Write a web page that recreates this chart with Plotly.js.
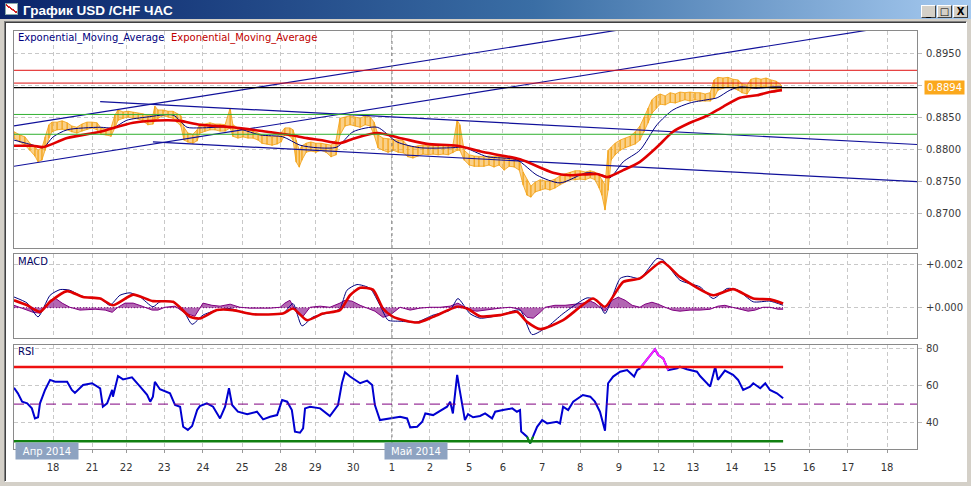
<!DOCTYPE html>
<html><head><meta charset="utf-8">
<script src="https://cdn.plot.ly/plotly-3.0.1.min.js"></script>
<style>
html,body{margin:0;padding:0;}
body{width:971px;height:486px;overflow:hidden;position:relative;background:#d4d0c8;}
#titlebar{position:absolute;left:0;top:0;width:971px;height:19px;background:linear-gradient(to right,#0a246a 0%,#3a6ea5 55%,#a6caf0 100%);}
#client{position:absolute;left:4px;top:21px;width:961px;height:459px;background:#fff;border-top:1px solid #808080;border-left:1px solid #808080;border-right:1px solid #fff;border-bottom:1px solid #fff;box-shadow:inset 1px 1px 0 #404040;}
#chart{position:absolute;left:0;top:0;width:971px;height:486px;z-index:1;}
.btn{position:absolute;top:5px;width:15px;height:13px;background:#d4d0c8;border-top:1px solid #fff;border-left:1px solid #fff;border-right:1px solid #404040;border-bottom:1px solid #404040;box-sizing:border-box;font:bold 10px 'DejaVu Sans',sans-serif;color:#000;text-align:center;line-height:11px;z-index:2;}
#icon{position:absolute;left:5px;top:3px;width:13px;height:12px;background:#fff;border:1px solid #8aa;box-sizing:border-box;z-index:2;background-image:linear-gradient(35deg,transparent 45%,#d02020 46%,#d02020 56%,transparent 57%);}
</style></head>
<body>
<div id="titlebar"></div>
<div id="client"></div>
<div id="icon"></div>
<div class="btn" style="left:921px">_</div>
<div class="btn" style="left:937px">□</div>
<div class="btn" style="left:953px">X</div>
<div id="chart"></div>
<script>
// ---------- DATA (time in trading-day units from left edge) ----------
const dayTickVals = [1.005,2.01,2.89,3.87,4.87,5.88,6.88,7.76,8.74,9.74,10.72,11.73,12.6,13.61,14.59,15.59,16.62,17.5,18.5,19.48,20.49,21.49,22.5];
const dayTickText = ['18','21','22','23','24','25','28','29','30','1','2','5','6','7','8','9','12','13','14','15','16','17','18'];
const monthLabels = ['Апр 2014','Май 2014'];
const monthStarts = [0.03, 9.54];
const mayBoundary = 9.74;

const tPrice = [0.00,0.15,0.28,0.41,0.54,0.62,0.72,0.80,0.90,0.98,1.11,1.24,1.37,1.49,1.62,1.75,1.88,2.01,2.14,2.24,2.37,2.50,2.60,2.68,2.81,2.94,3.07,3.20,3.32,3.45,3.58,3.63,3.71,3.84,3.97,4.10,4.20,4.30,4.38,4.48,4.61,4.72,4.79,4.92,5.05,5.18,5.31,5.44,5.57,5.64,5.77,5.90,6.03,6.16,6.29,6.39,6.52,6.65,6.78,6.88,6.98,7.11,7.19,7.27,7.35,7.42,7.53,7.65,7.78,7.91,8.04,8.17,8.30,8.40,8.53,8.66,8.79,8.92,9.05,9.18,9.28,9.38,9.51,9.64,9.77,9.90,10.03,10.15,10.28,10.41,10.54,10.67,10.80,10.93,11.06,11.19,11.31,11.42,11.49,11.60,11.73,11.86,11.98,12.11,12.24,12.37,12.50,12.63,12.76,12.89,13.02,13.12,13.22,13.32,13.43,13.56,13.69,13.81,13.94,14.07,14.20,14.33,14.46,14.59,14.72,14.85,14.97,15.08,15.15,15.23,15.31,15.39,15.49,15.62,15.75,15.88,16.01,16.13,16.24,16.34,16.44,16.55,16.65,16.78,16.91,17.04,17.16,17.29,17.42,17.55,17.68,17.81,17.94,18.04,18.14,18.27,18.40,18.53,18.66,18.76,18.89,18.99,19.12,19.25,19.38,19.51,19.64,19.77];
const priceHigh = [.8827,.8822,.8819,.8809,.8803,.8798,.8802,.8819,.8838,.8842,
.8842,.8844,.8841,.8836,.8834,.8839,.8842,.8842,.8841,.8833,
.8831,.8833,.8853,.8861,.8858,.8859,.8858,.8856,.8855,.8852,
.8853,.8867,.8861,.8861,.8859,.8859,.8855,.8852,.8834,.8825,
.8823,.8830,.8839,.8839,.8841,.8839,.8839,.8838,.8864,.8838,
.8833,.8830,.8830,.8828,.8825,.8822,.8820,.8819,.8820,.8825,
.8833,.8833,.8830,.8814,.8798,.8805,.8809,.8811,.8809,.8809,
.8808,.8806,.8814,.8848,.8850,.8852,.8850,.8848,.8852,.8850,
.8842,.8822,.8817,.8816,.8814,.8814,.8813,.8805,.8803,.8805,
.8806,.8805,.8806,.8805,.8806,.8805,.8806,.8845,.8838,.8798,
.8791,.8789,.8788,.8788,.8789,.8788,.8789,.8786,.8788,.8786,
.8783,.8764,.8752,.8742,.8748,.8752,.8750,.8750,.8753,.8758,
.8761,.8764,.8766,.8766,.8764,.8766,.8764,.8759,.8752,.8744,
.8798,.8803,.8809,.8814,.8817,.8820,.8827,.8836,.8850,.8864,
.8877,.8883,.8886,.8883,.8888,.8886,.8889,.8888,.8889,.8888,
.8888,.8886,.8888,.8908,.8912,.8911,.8912,.8909,.8908,.8902,
.8900,.8909,.8911,.8909,.8911,.8908,.8906,.8900];
const priceLow = [.8817,.8811,.8806,.8798,.8789,.8780,.8783,.8798,.8817,.8827,
.8830,.8831,.8830,.8827,.8825,.8828,.8831,.8833,.8830,.8823,
.8822,.8820,.8833,.8845,.8848,.8850,.8848,.8847,.8844,.8838,
.8839,.8845,.8848,.8852,.8850,.8848,.8842,.8836,.8814,.8811,
.8809,.8813,.8825,.8828,.8830,.8830,.8828,.8828,.8833,.8820,
.8817,.8819,.8817,.8817,.8814,.8809,.8808,.8806,.8808,.8811,
.8822,.8820,.8814,.8780,.8772,.8783,.8795,.8797,.8795,.8798,
.8795,.8788,.8791,.8822,.8836,.8838,.8836,.8834,.8838,.8836,
.8822,.8802,.8798,.8795,.8798,.8795,.8794,.8788,.8786,.8789,
.8792,.8791,.8792,.8791,.8792,.8791,.8794,.8798,.8798,.8783,
.8775,.8773,.8773,.8773,.8775,.8772,.8775,.8767,.8773,.8772,
.8767,.8744,.8728,.8725,.8733,.8736,.8738,.8736,.8739,.8744,
.8748,.8752,.8752,.8753,.8752,.8755,.8752,.8739,.8728,.8705,
.8736,.8783,.8791,.8798,.8802,.8805,.8808,.8814,.8827,.8841,
.8856,.8864,.8870,.8869,.8873,.8872,.8875,.8877,.8875,.8877,
.8875,.8875,.8875,.8880,.8892,.8895,.8897,.8895,.8892,.8888,
.8886,.8895,.8895,.8897,.8897,.8895,.8894,.8892];

const tEmaFast = [0.00,0.49,0.75,1.01,1.37,2.22,2.55,2.91,3.43,4.10,4.46,4.79,5.64,6.34,6.93,7.37,7.81,8.32,8.74,9.36,9.87,10.46,11.31,11.57,12.19,12.96,13.48,14.07,14.77,15.18,15.36,15.70,16.13,16.57,16.98,17.42,17.86,18.12,18.45,18.71,19.15,19.56,19.79];
const emaFast = [.8814,.8806,.8802,.8819,.8830,.8834,.8833,.8845,.8850,.8853,.8834,.8833,.8834,.8822,.8819,.8806,.8802,.8803,.8827,.8834,.8811,.8802,.8802,.8803,.8788,.8783,.8759,.8747,.8763,.8759,.8755,.8780,.8798,.8838,.8861,.8872,.8877,.8880,.8892,.8897,.8895,.8897,.8897];
const tEmaSlow = [0.00,0.49,0.75,1.37,2.22,3.07,3.94,4.28,4.79,5.64,6.52,7.11,7.55,7.89,8.40,8.74,9.36,10.03,10.64,11.42,12.19,13.04,13.89,14.33,15.03,15.28,15.70,16.13,16.57,16.98,17.42,17.86,18.27,18.71,19.15,19.48,19.79];
const emaSlow = [.8805,.8805,.8803,.8817,.8827,.8841,.8845,.8844,.8838,.8834,.8827,.8822,.8817,.8814,.8809,.8816,.8825,.8816,.8808,.8805,.8794,.8784,.8763,.8759,.8761,.8756,.8767,.8780,.8803,.8827,.8841,.8852,.8866,.8880,.8884,.8889,.8892];

// horizontal levels and trend lines drawn on the price panel
const redLevels = [0.8923, 0.8903];
const currentLine = 0.8896;
const lastPrice = 0.8894;
const greenLevels = [0.8854, 0.8823];
const trendT0 = [0, 0, 2.22, 3.58];
const trendP0 = [0.8836, 0.8773, 0.8874, 0.8811];
const trendT1 = [16, 23.27, 23.27, 23.27];
const trendP1 = [0.8990, 0.8998, 0.8807, 0.8749];

const priceTicks = [0.870, 0.875, 0.880, 0.885, 0.890, 0.895];
const priceTickText = ['0.8700','0.8750','0.8800','0.8850','','0.8950'];

const tMacd = [0.00,0.34,0.62,0.93,1.19,1.44,1.78,2.22,2.47,2.73,2.99,3.25,3.58,3.76,4.10,4.36,4.59,4.87,5.23,5.57,6.01,6.52,6.93,7.19,7.42,7.71,8.22,8.40,8.58,8.84,9.18,9.43,9.64,9.95,10.39,10.80,11.24,11.44,11.75,12.01,12.53,13.04,13.35,13.74,14.15,14.77,15.03,15.23,15.62,15.82,16.13,16.57,16.73,17.16,17.68,18.02,18.38,18.63,19.05,19.48,19.82];
const macd = [0.00049,0.00021,-0.00042,0.00057,0.00083,0.00080,0.00049,0.00042,0.00011,0.00057,0.00068,0.00049,0.00004,0.00027,0.00027,-0.00011,-0.00076,-0.00034,-0.00011,-0.00004,-0.00027,-0.00031,-0.00027,0.00019,-0.00083,-0.00042,-0.00019,-0.00004,0.00080,0.00106,0.00088,0.00011,-0.00057,-0.00062,-0.00065,-0.00034,-0.00011,0.00042,-0.00027,-0.00048,-0.00034,-0.00011,-0.00123,-0.00088,-0.00027,0.00045,0.00034,-0.00027,0.00134,0.00144,0.00134,0.00225,0.00218,0.00126,0.00095,0.00042,0.00088,0.00083,0.00027,0.00030,0.00011];
const tSignal = [0.00,0.34,0.67,0.93,1.37,1.78,2.22,2.55,3.07,3.58,4.10,4.54,4.79,5.23,5.64,6.16,6.93,7.19,7.55,7.96,8.40,8.66,8.92,9.25,9.51,9.77,10.39,10.80,11.42,11.68,12.01,12.53,12.96,13.22,13.56,14.15,14.92,15.23,15.70,16.13,16.70,17.16,18.02,18.53,19.05,19.48,19.82];
const signal = [0.00034,0.00011,-0.00019,0.00027,0.00076,0.00049,0.00042,0.00011,0.00060,0.00030,0.00027,-0.00042,-0.00049,-0.00011,-0.00011,-0.00030,-0.00027,-0.00004,-0.00057,-0.00027,-0.00011,0.00057,0.00091,0.00083,-0.00004,-0.00042,-0.00068,-0.00042,0.00004,-0.00004,-0.00039,-0.00034,-0.00019,-0.00065,-0.00098,-0.00057,0.00042,0.00004,0.00118,0.00134,0.00210,0.00141,0.00057,0.00085,0.00042,0.00038,0.00019];
const tHist = [0.00,0.28,0.49,0.67,0.80,0.93,1.06,1.24,1.44,1.70,2.09,2.35,2.53,2.68,2.86,3.07,3.30,3.56,3.71,3.89,4.15,4.41,4.66,4.87,5.10,5.31,5.57,5.82,6.08,6.34,6.60,6.86,6.98,7.11,7.29,7.45,7.63,7.89,8.14,8.40,8.53,8.71,8.92,9.30,9.51,9.69,9.95,10.21,10.46,10.72,10.98,11.24,11.44,11.62,11.75,11.93,12.27,12.53,12.78,13.04,13.22,13.38,13.56,13.69,13.94,14.20,14.46,14.66,14.85,14.97,15.10,15.23,15.41,15.57,15.75,15.93,16.13,16.26,16.44,16.60,16.78,16.96,17.16,17.42,17.68,17.94,18.14,18.32,18.51,18.71,18.92,19.10,19.30,19.48,19.69,19.82];
const hist = [0.00011,-0.00007,-0.00021,-0.00025,0.00002,0.00034,0.00044,0.00021,0.00002,-0.00011,-0.00007,-0.00011,-0.00021,0.00002,0.00021,0.00021,0.00007,-0.00011,-0.00011,0.00002,0.00007,-0.00025,-0.00039,0.00021,0.00011,0.00007,0.00016,0.00002,-0.00002,-0.00002,-0.00002,0.00002,0.00021,0.00034,-0.00025,-0.00039,0.00002,0.00007,0.00002,0.00021,0.00034,0.00030,0.00011,-0.00016,-0.00044,-0.00034,0.00002,-0.00011,-0.00002,0.00002,0.00002,0.00007,0.00021,0.00002,-0.00011,-0.00016,-0.00007,-0.00002,0.00002,-0.00007,-0.00044,-0.00048,-0.00021,0.00002,0.00011,0.00011,0.00016,0.00021,0.00030,0.00021,0.00002,-0.00016,0.00034,0.00048,0.00034,0.00011,0.00002,0.00016,0.00025,0.00016,0.00002,-0.00011,-0.00016,-0.00011,-0.00011,-0.00007,0.00007,0.00011,0.00002,-0.00007,-0.00016,-0.00011,0.00002,0.00002,-0.00007,-0.00007];
const macdTicks = [0, 0.002];
const macdTickText = ['+0.000', '+0.002'];

const tRsi = [0.00,0.10,0.21,0.34,0.46,0.54,0.62,0.67,0.80,0.93,1.06,1.37,1.49,1.57,1.78,2.01,2.22,2.29,2.40,2.53,2.55,2.68,2.81,3.04,3.25,3.43,3.51,3.58,3.63,3.76,4.02,4.15,4.28,4.36,4.48,4.59,4.72,4.79,4.97,5.13,5.31,5.44,5.54,5.62,5.77,6.01,6.26,6.42,6.60,6.78,6.91,7.04,7.16,7.24,7.37,7.45,7.50,7.63,7.89,8.14,8.35,8.45,8.53,8.66,8.92,9.10,9.23,9.30,9.43,9.61,9.95,10.13,10.21,10.39,10.52,10.60,10.80,11.16,11.24,11.31,11.42,11.47,11.55,11.62,11.70,11.83,12.01,12.14,12.32,12.40,12.60,12.84,12.96,13.04,13.07,13.22,13.30,13.38,13.48,13.61,13.74,13.99,14.07,14.15,14.28,14.41,14.66,14.85,14.97,15.10,15.23,15.31,15.44,15.62,15.80,15.98,16.06,16.13,16.31,16.52,16.60,16.73,16.86,17.09,17.16,17.34,17.60,17.68,17.94,18.07,18.14,18.32,18.53,18.66,18.79,18.97,19.05,19.23,19.36,19.48,19.66,19.82];
const rsi = [58.8,55.8,51.3,50.4,47.7,42.3,42.9,50.4,57.6,63.0,62.0,62.0,57.6,56.0,60.3,61.2,58.5,48.6,50.4,57.6,54.0,65.1,63.3,64.4,59.4,55.0,51.3,54.0,62.0,58.0,55.8,49.5,48.6,37.8,36.1,38.2,46.8,48.9,50.4,48.6,42.3,48.6,58.5,49.5,45.9,44.6,45.9,41.8,43.2,44.1,52.2,51.3,46.8,35.2,34.6,37.0,47.7,48.6,47.7,43.6,49.5,61.2,67.1,64.8,61.2,62.6,60.3,49.5,41.4,42.0,43.2,42.3,37.5,37.8,40.5,45.0,44.1,48.6,51.3,45.0,65.7,59.4,48.6,41.4,44.6,42.9,43.6,45.0,42.3,45.9,46.8,47.7,45.9,46.8,35.2,32.5,28.9,32.5,37.8,41.4,39.6,40.5,39.6,48.6,46.8,51.3,54.9,54.0,51.3,45.9,35.7,61.2,64.8,67.4,68.3,64.8,68.3,69.2,73.7,79.5,76.4,74.6,68.3,69.2,70.1,68.7,67.4,65.1,59.4,70.1,63.0,68.0,65.7,63.0,57.6,59.4,61.2,58.5,61.2,57.6,55.8,53.1];
const rsiUpper = 70, rsiLower = 30, rsiMid = 50;
const rsiTicks = [40, 60, 80];

// ---------- LAYOUT / STYLE ----------
const W = 971, H = 486;
const xDom = [14/W, 917/W];
const px2y = p => 1 - p/H;
const X_RANGE = [0, 23.27];
const FONT = 'DejaVu Sans, sans-serif';
const ORANGE = '#f2a010';
const NAVY = '#000080';
const RED = '#e00000';
const tEnd = tRsi[tRsi.length-1];

const grid = {showgrid:true, gridcolor:'#c8c8c8', gridwidth:1, griddash:'4px,3px',
  showline:true, mirror:true, linecolor:'#8a8a8a', linewidth:1, zeroline:false, fixedrange:true};

function xAx(anchor, labels) {
  const a = Object.assign({}, grid, {domain:xDom, range:X_RANGE, anchor:anchor,
    tickmode:'array', tickvals:dayTickVals, ticktext:dayTickText});
  if (labels) {
    Object.assign(a, {showticklabels:true, ticks:'outside', ticklen:3, tickcolor:'#999',
      tickfont:{family:FONT, size:10, color:'#333'}, ticklabelstandoff:6});
  } else {
    Object.assign(a, {showticklabels:false, ticks:''});
  }
  return a;
}
function yAx(anchor, dom, range, vals, text) {
  return Object.assign({}, grid, {domain:dom, range:range, anchor:anchor, side:'right',
    tickmode:'array', tickvals:vals, ticktext:text, ticks:'outside', ticklen:4, tickcolor:'#bbb',
    tickfont:{family:FONT, size:10, color:'#3a3a3a'}, ticklabelstandoff:2});
}

const traces = [];
// price: hourly high/low range as band plus vertical bars
traces.push({x:tPrice, y:priceLow, type:'scatter', mode:'lines', line:{color:ORANGE, width:0.8}, xaxis:'x', yaxis:'y', hoverinfo:'skip'});
traces.push({x:tPrice, y:priceHigh, type:'scatter', mode:'lines', line:{color:ORANGE, width:0.8}, fill:'tonexty', fillcolor:'rgba(245,170,40,0.55)', xaxis:'x', yaxis:'y', hoverinfo:'skip'});
traces.push({x:tPrice, y:priceLow, type:'scatter', mode:'markers', marker:{size:1, color:ORANGE},
  error_y:{type:'data', symmetric:false, array:priceHigh.map((h,i) => h - priceLow[i]), arrayminus:priceLow.map(() => 0), color:ORANGE, thickness:1.2, width:0},
  xaxis:'x', yaxis:'y', hoverinfo:'skip'});
// trend lines
for (let i = 0; i < trendT0.length; i++) {
  traces.push({x:[trendT0[i], trendT1[i]], y:[trendP0[i], trendP1[i]], type:'scatter', mode:'lines',
    line:{color:'#10109a', width:1.2}, xaxis:'x', yaxis:'y', hoverinfo:'skip'});
}
traces.push({x:tEmaFast, y:emaFast, type:'scatter', mode:'lines', line:{color:NAVY, width:1, shape:'spline', smoothing:0.7}, xaxis:'x', yaxis:'y'});
traces.push({x:tEmaSlow, y:emaSlow, type:'scatter', mode:'lines', line:{color:RED, width:2.6, shape:'spline', smoothing:0.7}, xaxis:'x', yaxis:'y'});

// MACD panel
traces.push({x:tHist, y:hist, type:'scatter', mode:'lines', line:{color:'#800080', width:1}, fill:'tozeroy', fillcolor:'rgba(128,0,128,0.6)', xaxis:'x2', yaxis:'y2'});
traces.push({x:tMacd, y:macd, type:'scatter', mode:'lines', line:{color:NAVY, width:1, shape:'spline', smoothing:0.6}, xaxis:'x2', yaxis:'y2'});
traces.push({x:tSignal, y:signal, type:'scatter', mode:'lines', line:{color:RED, width:2.6, shape:'spline', smoothing:0.6}, xaxis:'x2', yaxis:'y2'});

// RSI panel
traces.push({x:tRsi, y:rsi, type:'scatter', mode:'lines', line:{color:'#0000d0', width:2}, xaxis:'x3', yaxis:'y3'});
const rsiHot = rsi.map((v,i) => (v > 71 || rsi[i-1] > 71 || rsi[i+1] > 71) ? v : null);
const rsiCold = rsi.map((v,i) => (v < rsiLower || rsi[i-1] < rsiLower || rsi[i+1] < rsiLower) ? v : null);
traces.push({x:tRsi, y:rsiHot, type:'scatter', mode:'lines', line:{color:'#ff20ff', width:2}, xaxis:'x3', yaxis:'y3'});
traces.push({x:tRsi, y:rsiCold, type:'scatter', mode:'lines', line:{color:'#109010', width:2}, xaxis:'x3', yaxis:'y3'});

const shapes = [];
redLevels.forEach(v => shapes.push({type:'line', xref:'x domain', x0:0, x1:1, yref:'y', y0:v, y1:v, line:{color:'#e01010', width:1}}));
shapes.push({type:'line', xref:'x domain', x0:0, x1:1, yref:'y', y0:currentLine, y1:currentLine, line:{color:'#000', width:1.3}});
greenLevels.forEach(v => shapes.push({type:'line', xref:'x domain', x0:0, x1:1, yref:'y', y0:v, y1:v, line:{color:'#30b030', width:1}}));
[['x','y'],['x2','y2'],['x3','y3']].forEach(([xa,ya]) => shapes.push({type:'line', xref:xa, x0:mayBoundary, x1:mayBoundary, yref:ya+' domain', y0:0, y1:1, line:{color:'#777', width:1, dash:'3px,3px'}}));
shapes.push({type:'line', xref:'x2', x0:0, x1:tEnd, yref:'y2', y0:0, y1:0, line:{color:'#800080', width:1, dash:'1px,2px'}});
shapes.push({type:'line', xref:'x3 domain', x0:0, x1:1, yref:'y3', y0:rsiMid, y1:rsiMid, line:{color:'#800080', width:1, dash:'10px,6px'}});
shapes.push({type:'line', xref:'x3', x0:0, x1:tEnd, yref:'y3', y0:rsiUpper, y1:rsiUpper, line:{color:'#ee1010', width:2.5}});
shapes.push({type:'line', xref:'x3', x0:0, x1:tEnd, yref:'y3', y0:rsiLower, y1:rsiLower, line:{color:'#108010', width:2.5}});

const ann = [];
ann.push({xref:'paper', yref:'paper', x:16/W, y:px2y(38), xanchor:'left', yanchor:'middle', showarrow:false, text:'Exponential_Moving_Average', font:{family:FONT, size:10, color:'#000080'}});
ann.push({xref:'paper', yref:'paper', x:169/W, y:px2y(38), xanchor:'left', yanchor:'middle', showarrow:false, text:'Exponential_Moving_Average', font:{family:FONT, size:10, color:'#c00000'}});
ann.push({xref:'paper', yref:'paper', x:16/W, y:px2y(261), xanchor:'left', yanchor:'middle', showarrow:false, text:'MACD', font:{family:FONT, size:10, color:'#000060'}});
ann.push({xref:'paper', yref:'paper', x:16/W, y:px2y(351), xanchor:'left', yanchor:'middle', showarrow:false, text:'RSI', font:{family:FONT, size:10, color:'#000060'}});
ann.push({xref:'paper', yref:'y', x:924/W, y:currentLine, xanchor:'left', yanchor:'middle', showarrow:false, text:lastPrice.toFixed(4), bgcolor:'#fba81c', width:37, height:11, borderpad:1, font:{family:FONT, size:10, color:'#fff'}});
monthLabels.forEach((m,i) => ann.push({xref:'x3', yref:'paper', x:monthStarts[i], y:px2y(451), xanchor:'left', yanchor:'middle', showarrow:false, text:m, bgcolor:'#8ea3c1', width:60, height:14, borderpad:1, font:{family:FONT, size:10, color:'#fff'}}));

const layout = {
  width:W, height:H, margin:{l:0, r:0, t:0, b:0},
  paper_bgcolor:'rgba(0,0,0,0)', plot_bgcolor:'#fff', showlegend:false,
  title:{text:'<b>График USD /CHF ЧАС</b>', x:23/W, xanchor:'left', xref:'paper', y:px2y(10.5), yref:'container', yanchor:'middle', font:{family:'Liberation Sans, sans-serif', size:13.5, color:'#fff'}},
  xaxis: xAx('y', false),
  xaxis2: xAx('y2', false),
  xaxis3: xAx('y3', true),
  yaxis: yAx('x', [px2y(248), px2y(31)], [0.86453, 0.89844], priceTicks, priceTickText),
  yaxis2: yAx('x2', [px2y(338), px2y(254)], [-0.001387, 0.002458], macdTicks, macdTickText),
  yaxis3: yAx('x3', [px2y(449.3), px2y(345)], [25.7, 81.77], rsiTicks, rsiTicks.map(String)),
  shapes: shapes, annotations: ann
};
Plotly.newPlot('chart', traces, layout, {staticPlot:true, displayModeBar:false});
</script>
</body></html>
